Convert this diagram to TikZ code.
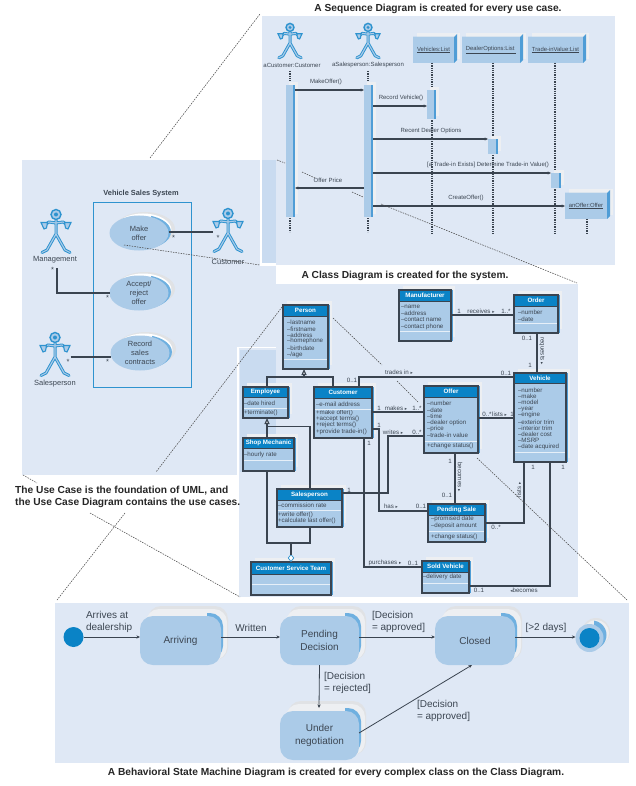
\documentclass[tikz,border=0pt]{standalone}
\usepackage{fontspec}
\setmainfont{Liberation Sans}
\newfontfamily\djv{DejaVu Sans}
\usetikzlibrary{arrows.meta,shapes.geometric}
\definecolor{panel}{HTML}{DFE8F5}
\definecolor{strip}{HTML}{C9DBF0}
\definecolor{fillb}{HTML}{ABCBE8}
\definecolor{stripe}{HTML}{4F9DD6}
\definecolor{stripel}{HTML}{6FB0E0}
\definecolor{shadec}{HTML}{EDEFF2}
\definecolor{shaded}{HTML}{E0E2E5}
\definecolor{hdr}{HTML}{0A83C6}
\definecolor{ink}{HTML}{3C4652}
\definecolor{linec}{HTML}{3A4450}
\definecolor{actorc}{HTML}{2E93CF}
\newcounter{lb}
\tikzset{
  x=1pt,y=-1pt,
  tx/.style={inner sep=0pt,outer sep=0pt,text=ink,font=\fontsize{6.2}{7}\selectfont,align=left},
  seqtx/.style={tx,font=\fontsize{6}{7}\selectfont},
  uctx/.style={tx,font=\fontsize{7.5}{9.2}\selectfont,align=center},
  statetx/.style={tx,font=\fontsize{10}{12.2}\selectfont,align=center},
  titletx/.style={inner sep=0pt,text=black!85,font=\bfseries\fontsize{10.2}{12}\selectfont,align=left},
  classbody/.style={draw=linec,line width=1.1pt,fill=fillb,inner sep=0pt,outer sep=0pt},
  classtitle/.style={inner sep=0pt,text=white,font=\bfseries\fontsize{6.2}{7}\selectfont},
  assoc/.style={draw=linec,line width=1.1pt},
  msg/.style={draw=linec,line width=1.1pt,-{Stealth[length=3.4pt,width=3pt]}},
  trans/.style={draw=linec,line width=.8pt,-{Stealth[length=3.6pt,width=3.2pt]}},
  life/.style={draw=linec,line width=1.1pt,dash pattern=on 1.3pt off 1pt},
  lead/.style={draw=black!70,line width=.55pt,dash pattern=on 1.5pt off 1.1pt},
  seqbar/.style={fill=fillb,inner sep=0pt,outer sep=0pt},
  objbox/.style={fill=fillb,inner sep=0pt,outer sep=0pt,text=ink,font=\fontsize{5.9}{7}\selectfont},
  casebox/.style={ellipse,fill=fillb,inner sep=0pt,outer sep=0pt,text=ink,align=center,font=\fontsize{7.5}{9.2}\selectfont},
  statebox/.style={rounded corners=13pt,fill=fillb,inner sep=0pt,outer sep=0pt,text=ink,align=center,font=\fontsize{10}{12.2}\selectfont},
  anchorbox/.style={inner sep=0pt,outer sep=0pt}
}
\newcommand{\lbl}[3][]{\stepcounter{lb}\node[tx,#1] (lb\thelb) at (#2) {#3};}
\newcommand{\ctxt}[3]{\stepcounter{lb}\node[tx,anchor=west] (lb\thelb) at (#1,#2) {#3};}
\newcommand{\ra}{{\djv\fontsize{4.5}{5}\selectfont ▸}}
\newcommand{\la}{{\djv\fontsize{4.5}{5}\selectfont ◂}}
% name x1 y1 x2 y2 yh title
\newcommand{\umlclass}[7]{%
  \fill[shadec] ({#2+4},{#3-4}) rectangle ({#4+4},{#5-4});
  \fill[stripe] (#2,#3) rectangle ({#4+2},{#5});
  \node[classbody,minimum width={(#4-#2)*1pt},minimum height={(#5-#3)*1pt}] (#1) at ({(#2+#4)/2},{(#3+#5)/2}) {};
  \fill[hdr] (#2,#3) rectangle (#4,#6);
  \draw[draw=linec,line width=1.1pt] (#1.north west) rectangle (#1.south east);
  \draw[draw=linec,line width=.9pt] (#2,#6) -- (#4,#6);
  \node[classtitle] (#1-title) at ({(#2+#4)/2},{(#3+#6)/2}) {#7};
}
\newcommand{\sepl}[3]{\draw[white!70!fillb,line width=.6pt] (#1,#3) -- (#2,#3);}
% bar name x1 y1 x2 y2
\newcommand{\seqact}[5]{%
  \fill[shadec] ({#2+3},{#3-3}) rectangle ({#4+3},{#5-3});
  \fill[stripe] ({#4-3},#3) rectangle (#4,#5);
  \node[seqbar,minimum width={(#4-#2-2.5)*1pt},minimum height={(#5-#3)*1pt}] (#1) at ({(#2+#4-2.5)/2},{(#3+#5)/2}) {};
  \coordinate (#1-r) at (#4,{(#3+#5)/2});
}
\newcommand{\seqobj}[6]{%
  \fill[shadec] ({#2+4},{#3-4}) rectangle ({#4+4},{#5-4});
  \fill[stripe] (#2,#3) -- ({#4-2},#3) -- ({#4+1},{#3-3}) -- ({#4+1},{#5-3}) -- ({#4-2},#5) -- (#2,#5) -- cycle;
  \node[objbox,minimum width={(#4-#2-2)*1pt},minimum height={(#5-#3)*1pt}] (#1) at ({(#2+#4-2)/2},{(#3+#5)/2}) {\underline{#6}};
}
% actor: name cx ytop scale
\newcommand{\actorpath}[1]{%
  \draw[#1,line cap=round,line join=round] (0,11) -- (0,25) (0,25) -- (-9,41) -- (-14,43.5) (0,25) -- (9,41) -- (14,43.5)
     (0,14) -- (-7,13) -- (-10,15) (0,14) -- (7,13) -- (10,15);
}
\newcommand{\actorfig}[4]{%
  \node[anchorbox,minimum width={31*#4*1pt},minimum height={45*#4*1pt}] (#1) at (#2,{#3+22.5*#4}) {};
  \begin{scope}[shift={(#2,#3)},scale=#4,x=1pt,y=-1pt]
    \actorpath{actorc,line width=3pt}
    \actorpath{fillb,line width=1.1pt}
    \fill[fillb,draw=actorc,line width=1.4pt] (0,5.5) circle (5);
    \fill[actorc] (0,5.5) circle (2);
    \fill[fillb,draw=actorc,line width=1.1pt] (-15,13.5) -- (-8.5,13.5) -- (-9.5,19) -- (-12,20) -- cycle;
    \fill[fillb,draw=actorc,line width=1.1pt] (15,13.5) -- (8.5,13.5) -- (9.5,19) -- (12,20) -- cycle;
  \end{scope}
}
% usecase: name cx cy text
\newcommand{\usecase}[4]{%
  \fill[shaded] ({#2+6},{#3-4}) ellipse (30pt and 17pt);
  \fill[white] ({#2+4},{#3-3}) ellipse (28.5pt and 16.5pt);
  \begin{scope}
    \clip ({#2+12},{#3-30}) rectangle ({#2+45},{#3+30});
    \fill[stripel] ({#2+2.5},{#3-1}) ellipse (29.5pt and 17pt);
  \end{scope}
  \node[casebox,minimum width=59pt,minimum height=35pt] (#1) at (#2,#3) {#4};
}
% state: name x1 y1 x2 y2 text
\newcommand{\umlstate}[6]{%
  \fill[shaded,rounded corners=13pt] ({#2+8},{#3-10}) rectangle ({#4+7},{#5-5});
  \fill[shadec,rounded corners=13pt] ({#2+6},{#3-7}) rectangle ({#4+6},{#5-5});
  \begin{scope}
    \clip ({#4-14},{#3-10}) rectangle ({#4+10},{#5});
    \fill[stripel,rounded corners=13pt] ({#4-60},{#3-3}) rectangle ({#4+2},{#5-6});
  \end{scope}
  \node[statebox,minimum width={(#4-#2)*1pt},minimum height={(#5-#3)*1pt},text width={(#4-#2-8)*1pt}] (#1) at ({(#2+#4)/2},{(#3+#5)/2}) {#6};
}
\begin{document}
\begin{tikzpicture}
\useasboundingbox[fill=white] (0,0) rectangle (635,786);
% ---------- panels
\fill[panel] (22,160) rectangle (260,475);
\fill[panel] (260,266) rectangle (276,349);
\fill[panel] (276,284) rectangle (578,597);
\fill[panel] (239,349) rectangle (276,597);
\fill[panel] (276,16) rectangle (615,265);
\fill[panel] (262,16) rectangle (276,160);
\fill[strip] (262,160) rectangle (276,263);
\fill[strip] (240,350) rectangle (276,472);
\draw[white,line width=1.6pt] (238.2,597) -- (238.2,347.6) -- (276,347.6);
\fill[panel] (55,603) rectangle (629,763);
% ---------- titles
\node[titletx] (titleseq) at (438,9) {A Sequence Diagram is created for every use case.};
\node[titletx] (titleclass) at (405,276) {A Class Diagram is created for the system.};
\node[titletx,anchor=north west] (titleuc) at (15,486) {The Use Case is the foundation of UML, and\\the Use Case Diagram contains the use cases.};
\node[titletx] (titlestate) at (336,773) {A Behavioral State Machine Diagram is created for every complex class on the Class Diagram.};
% ---------- sequence diagram
\actorfig{seqcust}{290}{23}{.8}
\actorfig{seqsales}{368}{23}{.8}
\lbl[seqtx]{292,65}{aCustomer:Customer}
\lbl[seqtx]{368,65}{aSalesperson:Salesperson}
\seqobj{vehlist}{413}{37}{456}{63}{Vehicles:List}
\seqobj{deallist}{462}{37}{522}{63}{DealerOptions:List }
\seqobj{tradelist}{528}{37}{585}{63}{Trade-inValue:List}
\coordinate (e1) at (432,234); \coordinate (e2) at (493,234); \coordinate (e3) at (555,234);
\coordinate (e4) at (290,232); \coordinate (e5) at (368,232); \coordinate (e6) at (587,234);
\coordinate (s1) at (290,71); \coordinate (s2) at (368,71);
\draw[life] (vehlist.south -| e1) -- (e1);
\draw[life] (deallist.south -| e2) -- (e2);
\draw[life] (tradelist.south -| e3) -- (e3);
\draw[life] (s1) -- (e4);
\draw[life] (s2) -- (e5);
\seqact{actcust}{286}{85}{295}{217}
\seqact{actsales}{364}{85}{373}{217}
\seqact{actveh}{427}{90}{436}{119}
\seqact{actdeal}{488}{139}{498}{154}
\seqact{acttrade}{551}{173}{561}{188}
\seqobj{anoffer}{565}{193}{609}{219}{anOffer:Offer}
\draw[life] (anoffer.south -| e6) -- (e6);
\draw[msg] (actcust-r |- 0,90) -- (actsales.west |- 0,90);
\draw[msg] (actsales-r |- 0,106) -- (actveh.west |- 0,106);
\draw[msg] (actsales-r |- 0,139) -- (actdeal.west |- 0,139);
\draw[msg] (actsales-r |- 0,173) -- (acttrade.west |- 0,173);
\draw[msg] (actsales.west |- 0,188) -- (actcust-r |- 0,188);
\draw[msg] (actsales-r |- 0,206) -- (anoffer.west |- 0,206);
\lbl[seqtx]{326,82}{MakeOffer()}
\lbl[seqtx]{401,98}{Record Vehicle()}
\lbl[seqtx]{431,131}{Recent Dealer Options}
\lbl[seqtx]{488,165}{[a Trade-in Exists] Determine Trade-in Value()}
\lbl[seqtx]{328,180}{Offer Price}
\lbl[seqtx]{466,198}{CreateOffer()}
% ---------- use case diagram
\node[tx,font=\bfseries\fontsize{7.4}{9}\selectfont] (ucsys) at (141,194) {Vehicle Sales System};
\node[draw=actorc,line width=.7pt,minimum width=98pt,minimum height=185pt,inner sep=0pt,outer sep=0pt] (sysbox) at (142,294.5) {};
\actorfig{ucmgmt}{56}{209}{1}
\actorfig{uccust}{228}{208}{1}
\actorfig{ucsales}{55}{332}{1}
\lbl[uctx]{55,260}{Management}
\lbl[uctx]{228,261.5}{Customer}
\lbl[uctx]{55,384}{Salesperson}
\usecase{ucoffer}{139}{233}{Make\\offer}
\usecase{ucaccept}{139}{293}{Accept/\\reject\\offer}
\usecase{ucrecord}{140}{353}{Record\\sales\\contracts}
\draw[assoc] (ucoffer.east |- 0,232) -- (uccust.west |- 0,232);
\draw[assoc] (ucmgmt.south -| 57,0) ++(0,14) -- (57,293) -- (ucaccept.west);
\draw[assoc] (ucsales.east |- 0,357) -- (ucrecord.west |- 0,357);
\lbl[uctx]{173.5,238}{*}
\lbl[uctx]{218,238}{*}
\lbl[uctx]{52.5,270}{*}
\lbl[uctx]{107.5,298}{*}
\lbl[uctx]{68,362}{*}
\lbl[uctx]{107.5,362}{*}
% ---------- class diagram
\umlclass{person}{283}{305}{328}{369}{316}{Person}
\ctxt{287}{322}{–lastname}\ctxt{287}{329}{–firstname}\ctxt{287}{335}{–address}\ctxt{287}{341}{–homephone}\ctxt{287}{348}{–birthdate}\ctxt{287}{355}{–/age}
\sepl{284}{327}{359}
\umlclass{employee}{243}{387}{288}{418}{397}{Employee}
\ctxt{244}{403}{–date hired}\ctxt{244}{413}{+terminate()}
\sepl{244}{287}{408}
\umlclass{customer}{314}{387}{372}{438}{398}{Customer}
\ctxt{316}{404}{–e-mail address}\ctxt{316}{413}{+make offer()}\ctxt{316}{419}{+accept terms()}\ctxt{316}{425}{+reject terms()}\ctxt{316}{432}{+provide trade-in()}
\sepl{315}{371}{409}
\umlclass{shopm}{243}{438}{294}{471}{448}{Shop Mechanic}
\ctxt{244}{455}{–hourly rate}
\sepl{244}{293}{460}
\umlclass{manuf}{399}{290}{451}{341}{301}{Manufacturer}
\ctxt{401}{307}{–name}\ctxt{401}{313}{–address}\ctxt{401}{320}{–contact name}\ctxt{401}{327}{–contact phone}
\sepl{400}{450}{331}
\umlclass{order}{514}{295}{558}{333}{306}{Order}
\ctxt{518}{312}{–number}\ctxt{518}{319}{–date}
\sepl{515}{557}{323}
\umlclass{vehicle}{514}{373}{566}{462}{383}{Vehicle}
\ctxt{518}{390}{–number}\ctxt{518}{396}{–make}\ctxt{518}{402}{–model}\ctxt{518}{409}{–year}\ctxt{518}{415}{–engine}\ctxt{518}{422}{–exterior trim}\ctxt{518}{428}{–interior trim}\ctxt{518}{434}{–dealer cost}\ctxt{518}{440}{–MSRP}\ctxt{518}{447}{–date acquired}
\sepl{515}{565}{452}
\umlclass{offer}{424}{386}{478}{453}{397}{Offer}
\ctxt{427}{403}{–number}\ctxt{427}{410}{–date}\ctxt{427}{416}{–time}\ctxt{427}{423}{–dealer option}\ctxt{427}{429}{–price}\ctxt{427}{435}{–trade-in value}\ctxt{427}{446}{+change status()}
\sepl{425}{477}{441}
\umlclass{salesp}{277}{489}{342}{527}{500}{Salesperson}
\ctxt{278}{505}{–commission rate}\ctxt{278}{515}{+write offer()}\ctxt{278}{521}{+calculate last offer()}
\sepl{278}{341}{510}
\umlclass{cst}{251}{562}{331}{595}{574}{Customer Service Team}
\sepl{252}{330}{584}
\umlclass{pend}{428}{504}{485}{542}{515}{Pending Sale}
\ctxt{431}{519}{–promised date}\ctxt{431}{526}{–deposit amount}\ctxt{431}{537}{+change status()}
\sepl{429}{484}{531}
\umlclass{sold}{422}{561}{469}{593}{572}{Sold Vehicle}
\ctxt{423}{577}{–delivery date}
\sepl{423}{468}{583}
% class connectors
\draw[assoc,-{Triangle[open,length=6pt,width=5pt,fill=white]}] (304,377) -- (person.south -| 304,0);
\draw[assoc] (employee.north -| 267,0) -- (267,377) -- (333,377) -- (customer.north -| 333,0);
\draw[assoc,-{Triangle[open,length=6pt,width=5pt,fill=white]}] (267,438) -- (employee.south -| 267,0);
\draw[assoc] (267,426.5) -- (310,426.5) -- (salesp.north -| 310,0);
\draw[assoc] (shopm.south -| 267,0) -- (267,543) -- (310,543) -- (salesp.south -| 310,0);
\node[diamond,draw=actorc,fill=white,line width=.7pt,inner sep=0pt,minimum width=5.5pt,minimum height=7pt,outer sep=0pt] (aggd) at (291,558) {};
\draw[assoc] (291,543) -- (aggd.north);
\draw[assoc] (aggd.south) -- (cst.north -| 291,0);
\draw[assoc] (customer.east |- 0,412) -- (offer.west |- 0,412);
\draw[assoc] (salesp.east |- 0,493) -- (388,493) -- (388,436) -- (offer.west |- 0,436);
\draw[assoc] (customer.south -| 364,0) -- (364,567) -- (sold.west |- 0,567);
\draw[assoc] (customer.east |- 0,429) -- (379,429) -- (379,511) -- (pend.west |- 0,511);
\fill[linec] (364,493) circle (1.5);
\fill[linec] (379,493) circle (1.5);
\draw[assoc] (customer.north -| 359,0) -- (359,377) -- (vehicle.west |- 0,377);
\draw[assoc] (offer.east |- 0,418) -- (vehicle.west |- 0,418);
\draw[assoc] (manuf.east |- 0,315) -- (order.west |- 0,315);
\draw[assoc] (order.south -| 537,0) -- (vehicle.north -| 537,0);
\draw[assoc] (offer.south -| 455,0) -- (pend.north -| 455,0);
\draw[assoc] (pend.east |- 0,523) -- (524,523) -- (vehicle.south -| 524,0);
\draw[assoc] (sold.east |- 0,586) -- (550,586) -- (vehicle.south -| 550,0);
% class labels
\lbl{352,380}{0..1}\lbl{399,372.5}{trades in \ra}\lbl{506,373}{0..1}
\lbl{379,408}{1}\lbl{396,408}{makes \ra}\lbl{417,408}{1..*}
\lbl{379,425}{1}\lbl{369,443.5}{1}
\lbl{393,432}{writes \ra}\lbl{417,432}{0..*}
\lbl{349,490}{1}
\lbl{391,506}{has \ra}\lbl{421,506}{0..1}
\lbl{385,563}{purchases \ra}\lbl{413,563.5}{0..1}
\lbl{487,414}{0..*}\lbl{499.5,414}{lists \ra}\lbl{512,414}{1}
\lbl{459,311}{1}\lbl{481,311}{receives \ra}\lbl{506,311}{1..*}
\lbl{527,338}{0..1}\lbl{530,365}{1}
\lbl[rotate=-90]{542,351}{requests \ra}
\lbl{450,461}{1}\lbl[rotate=-90]{460,477}{becomes \ra}\lbl{447,495}{0..1}
\lbl[rotate=90]{519,490}{lists \ra}
\lbl{533,467}{1}\lbl{563,467}{1}
\lbl{496,527}{0..*}\lbl{479,590}{0..1}\lbl{524,590.5}{\la becomes}
% ---------- state machine
\node[circle,fill=hdr,minimum size=20pt,inner sep=0pt,outer sep=0pt] (init) at (73.5,637) {};
\umlstate{arriving}{140}{616}{221}{665}{Arriving}
\umlstate{pending}{280}{616}{359}{665}{Pending\\Decision}
\umlstate{closed}{435}{616}{515}{665}{Closed}
\umlstate{under}{280}{711}{359}{760}{Under\\negotiation}
\fill[shaded] (596,632) circle (14);
\fill[shadec] (596,633) circle (13);
\begin{scope}
  \clip (594,610) rectangle (615,660);
  \fill[stripel] (592,635) circle (14.5);
\end{scope}
\node[circle,fill=fillb,minimum size=28pt,inner sep=0pt,outer sep=0pt] (finalout) at (589.5,638) {};
\node[circle,fill=hdr,minimum size=20pt,inner sep=0pt,outer sep=0pt] (finalin) at (589.5,638) {};
\draw[trans] (init.east |- 0,637) -- (arriving.west |- 0,637);
\draw[trans] (arriving.east |- 0,637) -- (pending.west |- 0,637);
\draw[trans] (pending.east |- 0,637) -- (closed.west |- 0,637);
\draw[trans] (closed.east |- 0,637) -- (finalout.west |- 0,637);
\draw[trans] (pending.south) -- (319,708);
\draw[trans] (under.east |- 0,733) -- (closed.south -| 472,0);
\lbl[statetx,anchor=west,align=left]{86,622}{Arrives at\\dealership}
\lbl[statetx]{251,628}{Written}
\lbl[statetx,anchor=west,align=left]{372,622}{[Decision\\= approved]}
\lbl[statetx]{546,628}{[>2 days]}
\lbl[statetx,anchor=west,align=left]{324,683}{[Decision\\= rejected]}
\lbl[statetx,anchor=west,align=left]{417,711}{[Decision\\= approved]}
% ---------- leaders
\coordinate (a1) at (150,158); \coordinate (a2) at (260,14);
\draw[lead] (a1) -- (a2);
\coordinate (b1) at (124,245); \coordinate (b2) at (260,265);
\draw[lead] (b1) -- (b2);
\coordinate (c1) at (277,160); \coordinate (c2) at (285,163);
\coordinate (c3) at (302,172); \coordinate (c4) at (315,178);
\coordinate (c5) at (352,192); \coordinate (c6) at (363,197);
\coordinate (c7) at (381,204); \coordinate (c8) at (577,283);
\draw[lead] (c1) -- (c2); \draw[lead] (c3) -- (c4); \draw[lead] (c5) -- (c6); \draw[lead] (c7) -- (c8);
\coordinate (d1) at (282,307); \coordinate (d2) at (156,472);
\coordinate (d3) at (125,513); \coordinate (d4) at (57,600);
\draw[lead] (d1) -- (d2); \draw[lead] (d3) -- (d4);
\coordinate (f1) at (23,475); \coordinate (f2) at (37,483);
\coordinate (f3) at (90,513); \coordinate (f4) at (240,597);
\draw[lead] (f1) -- (f2); \draw[lead] (f3) -- (f4);
\coordinate (g1) at (333,318); \coordinate (g2) at (382,365);
\coordinate (g3) at (397,381); \coordinate (g4) at (418,402);
\draw[lead] (g1) -- (g2); \draw[lead] (g3) -- (g4);
\coordinate (h1) at (477,458); \coordinate (h2) at (627,600);
\draw[lead] (h1) -- (h2);
\end{tikzpicture}
\end{document}
